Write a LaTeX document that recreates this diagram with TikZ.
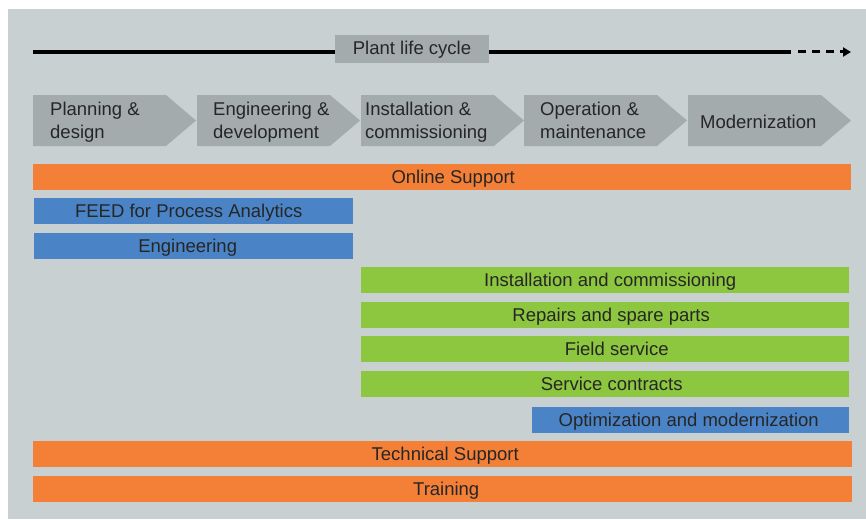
\documentclass[tikz,border=0pt]{standalone}
\usepackage{fontspec}
\setmainfont{Liberation Sans}
\usetikzlibrary{positioning, arrows.meta}
\definecolor{panel}{RGB}{200,208,210}
\definecolor{phasegray}{RGB}{163,171,173}
\definecolor{svcorange}{RGB}{244,128,56}
\definecolor{svcblue}{RGB}{74,132,198}
\definecolor{svcgreen}{RGB}{141,198,63}
\definecolor{inkdark}{RGB}{38,38,38}
\tikzset{
    x=1pt, y=-1pt, % one unit per pixel, y going down
    every node/.style={font=\fontsize{18.5}{23.5}\selectfont, text=inkdark},
    bar/.style={minimum height=26pt, inner sep=0pt, anchor=north west,
                text height=13pt, text depth=0pt}, % service bars
    phase/.style={align=left, anchor=base west, inner sep=0pt}, % phase labels, base = last line
    lifeline/.style={line width=4pt},
}

\begin{document}
\begin{tikzpicture}
    \useasboundingbox (0,0) rectangle (866,519);
    \fill[panel] (8,9) rectangle (866,519);

    % life cycle arrow
    \coordinate (lcstart) at (33,52);
    \coordinate (lcsolid) at (791,52);
    \coordinate (lcdash) at (798,52);
    \coordinate (lcend) at (851,52);
    \draw[lifeline] (lcstart) -- (lcsolid);
    \draw[line width=3pt, dash pattern=on 8pt off 6pt,
          -{Triangle[length=8pt, width=9pt]}] (lcdash) -- (lcend);
    \node[fill=phasegray, minimum width=154pt, minimum height=28pt, inner sep=0pt,
          text height=13.3pt, text depth=3pt]
        (plc) at (412,49) {Plant life cycle};

    % phases
    \foreach \x/\dx/\y/\txt [count=\i] in {33/17/138.5/{Planning \&\\design},
                                           197/16/138.5/{Engineering \&\\development},
                                           361/4/138.5/{Installation \&\\commissioning},
                                           524/16/138.5/{Operation \&\\maintenance},
                                           688/12/128.3/{Modernization}} {
        \fill[phasegray] (\x,95) -- ++(133,0) -- ++(30,25.5) -- ++(-30,25.5)
            -- ++(-133,0) -- cycle;
        \node[phase] (ph\i) at (\x+\dx,\y) {\txt};
    }

    % services
    \node[bar, fill=svcorange, minimum width=818pt] (online) at (33,164) {\hspace*{22pt}Online Support};
    \node[bar, fill=svcblue, minimum width=319pt] (feed) at (34,198) {FEED for Process Analytics\hspace*{10pt}};
    \node[bar, fill=svcblue, minimum width=319pt] (eng) at (34,233) {Engineering\hspace*{12pt}};
    \node[bar, fill=svcgreen, minimum width=488pt] (install) at (361,267) {\hspace*{10pt}Installation and commissioning};
    \node[bar, fill=svcgreen, minimum width=488pt] (repair) at (361,302) {\hspace*{12pt}Repairs and spare parts};
    \node[bar, fill=svcgreen, minimum width=488pt] (field) at (361,336) {\hspace*{23pt}Field service};
    \node[bar, fill=svcgreen, minimum width=488pt] (contract) at (361,371) {\hspace*{13pt}Service contracts};
    \node[bar, fill=svcblue, minimum width=317pt] (optim) at (532,407) {Optimization and modernization\hspace*{4pt}};
    \node[bar, fill=svcorange, minimum width=819pt] (techsup) at (33,441) {\hspace*{5pt}Technical Support};
    \node[bar, fill=svcorange, minimum width=819pt] (train) at (33,476) {\hspace*{7pt}Training};
\end{tikzpicture}
\end{document}
